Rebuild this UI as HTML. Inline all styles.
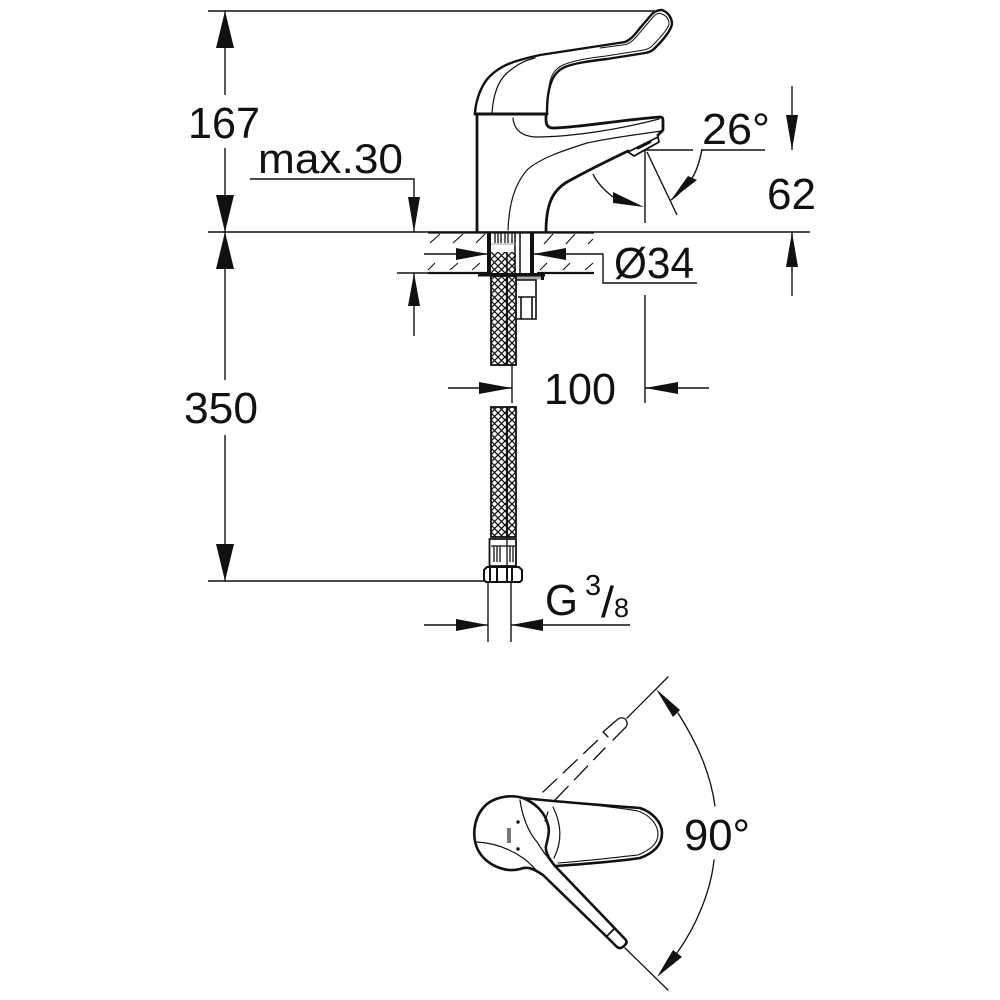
<!DOCTYPE html>
<html><head><meta charset="utf-8"><style>
html,body{margin:0;padding:0;background:#fff}
svg{display:block}
text{font-family:"Liberation Sans",sans-serif;fill:#111}
</style></head><body>
<svg width="1000" height="1000" viewBox="0 0 1000 1000" xmlns="http://www.w3.org/2000/svg">
<defs>
<pattern id="mesh" width="7" height="7" patternUnits="userSpaceOnUse" patternTransform="translate(491 0)">
<rect width="7" height="7" fill="#fff"/>
<path d="M0 0L7 7M7 0L0 7" stroke="#111" stroke-width="1.3"/>
</pattern>
</defs>
<g fill="none" stroke="#111" stroke-width="1.4" stroke-linecap="butt">
<!-- dimension lines -->
<path d="M208 11H655M208 232H810M208 581H485"/>
<path d="M225 11V95M225 148V232V380M225 435V581"/>
<path d="M250 179H414V232"/>
<path d="M792 86V150M792 232V296M702 150H765"/>
<path d="M397 273H490M414 273V336"/>
<path d="M424 254H488M533 254H603V283H697"/>
<path d="M645 295V403M512 365V403M448 388H512M645 388H709"/>
<path d="M488 582V642M511 582V642M424 625H488M511 625H630"/>
<path d="M645 150H693M645 150V223M647 152L677 215"/>
<path d="M702 149C700 160 697 172 690 181C684 189 678 195 671 200"/>
<path d="M593 174C597 183 604 190 613 197"/>
</g>
<g fill="#111" stroke="none">
<path d="M225 11L216 48H234Z"/>
<path d="M225 232L216 195H234Z"/>
<path d="M225 232L216 269H234Z"/>
<path d="M225 581L216 544H234Z"/>
<path d="M414 232L408 197H420Z"/>
<path d="M792 150L786 115H798Z"/>
<path d="M792 232L786 267H798Z"/>
<path d="M414 273L408 306H420Z"/>
<path d="M488 254L456 248V260Z"/>
<path d="M533 254L566 248V260Z"/>
<path d="M512 388L479 382V394Z"/>
<path d="M645 388L678 382V394Z"/>
<path d="M488 625L456 619V631Z"/>
<path d="M511 625L543 619V631Z"/>
<path d="M644 207L613 192V203Z"/>
<path d="M671 200L688 176L697 180Z"/>
</g>
<!-- faucet -->
<g fill="none" stroke="#111" stroke-linejoin="round" stroke-linecap="round">
<path stroke-width="2.4" d="M475 113C476 100 480 90 485 82C493 71 505 64 520 60C530 57 535 56 540 55L625 42C630 40 634 36 640 28L652 14C655 11 659 10 662 10C668 12 672 18 672 24C671 30 665 38 655 48C652 51 650 52 645 53L607 59C590 61 575 63 565 67C553 72 547 85 547 113"/>
<path stroke-width="1" d="M600 48L626 44.500C631 43 636 38 642 30L654 16C657 13 660 13 662 14C667 16 669 20 669 24C668 29 662 36 652 46C650 48 648 49 644 50L606 56C590 58 575 60 563 65C554 69 549 78 549 90"/>
<path stroke-width="1.200" d="M492 113C493 98 497 82 507 73C515 66 525 60 535 58"/>
<path stroke-width="3" d="M475 114H547"/>
<path stroke-width="2.800" d="M477 114V232"/>
<path stroke-width="2.800" d="M546 114V120C546 125 548 128 553 128C575 128 620 120 660 117C663 117 663 119 663 122V130L658 135"/>
<path stroke-width="2.800" d="M628 151C605 162 585 172 567 182C552 191 546 205 546 232"/>
<path stroke-width="1.200" d="M513 118C514 130 522 136 535 137C575 137 625 128 659 119"/>
<path stroke-width="1.200" d="M508 230C509 205 514 185 527 170C540 158 565 150 587 143C610 138 640 134 662 131"/>
<path stroke-width="1.800" fill="#fff" d="M628 152L658 137L659 142L634 156Z"/>
<path stroke-width="2.800" d="M638 148L650 142"/>
</g>
<!-- deck hatch -->
<g fill="none" stroke="#111" stroke-width="2.200">
<path d="M428 232.500H594M428 273H490M537 273H594"/>
</g>
<g fill="none" stroke="#111" stroke-width="1.100">
<path d="M430 243L440 234M453 243L463 234M476 243L485 234"/>
<path d="M544 244L553 234M566 244L575 234M588 244L593 239"/>
<path d="M428 270L435 263M450 270L458 263M472 270L480 263"/>
<path d="M540 270L547 263M563 270L570 263M585 270L593 263"/>
</g>
<!-- shank -->
<rect x="487" y="232" width="4" height="41" fill="#111"/>
<rect x="530" y="232" width="4" height="41" fill="#111"/>
<rect x="491" y="252" width="25" height="21" fill="url(#mesh)"/>
<path d="M515 232V273M520 232V273M507 252V273" stroke="#111" stroke-width="1.500"/>
<path d="M495 233V243M498 233V243M501 233V243M505 233V243M508 233V243M512 233V243" stroke="#111" stroke-width="1.300"/>
<path d="M491 244H516" stroke="#999" stroke-width="1"/>
<rect x="478" y="273" width="67" height="3.500" fill="#111"/>
<rect x="497" y="276.500" width="44" height="3" fill="#aaa"/>
<rect x="541" y="276" width="3" height="4" fill="#111"/>
<path d="M517 280H536V319H517M518 297H535M521 297V319M532 297V319" fill="#fff" stroke="#111" stroke-width="1.600"/>
<!-- hose top -->
<rect x="491" y="276" width="25" height="89" fill="url(#mesh)" stroke="#111" stroke-width="1.800"/>
<path d="M507 276V365" stroke="#111" stroke-width="2.200"/>
<!-- hose bottom -->
<rect x="491" y="407" width="25" height="130" fill="url(#mesh)" stroke="#111" stroke-width="1.800"/>
<path d="M507 407V538" stroke="#111" stroke-width="2.200"/>
<path d="M489.500 539H516V566H489.500Z" fill="#fff" stroke="#111" stroke-width="1.800"/>
<path d="M491 546H515M494 546V562M497 546V562M500 546V562M510 546V562M513 546V562M507 539V566" stroke="#111" stroke-width="1.300" fill="none"/>
<path d="M484 570L487 567H519L522 570V580L520 582H486L484 580Z" fill="#fff" stroke="#111" stroke-width="2"/>
<path d="M490 567V582M497 567V582M507 567V582M512 567V582" stroke="#111" stroke-width="2"/>
<!-- plan view -->
<g fill="none" stroke="#111" stroke-linecap="round" stroke-linejoin="round">
<path stroke-width="2.600" d="M523 798C560 802 600 805 640 808C652 812 662 822 662 833C662 845 654 853 640 858C620 861 585 864 556 866"/>
<path stroke-width="1.100" d="M553 801C580 804 610 806 638 811C650 815 658 825 658 834C658 844 650 850 638 855C610 858 585 861 558 863"/>
<path stroke-width="2.600" d="M523 798C510 794 492 797 483 808C473 820 472 838 478 850C486 865 505 873 520 869C528 866 534 869 543 875L610 940L617 947C620 949 622 948 625 945C627 943 627 941 625 939L555 866C550 860 545 852 546 846C548 838 550 830 548 825C545 812 535 803 523 798Z"/>
<path stroke-width="1.200" d="M520 800C522 815 528 832 537 842C542 850 548 858 553 864"/>
<path stroke-width="1.200" d="M477 842C495 843 510 849 523 858C529 862 533 867 537 871"/>
<path stroke-width="1.200" d="M548 812L545 821M553 807C562 825 562 842 554 858"/>
<path stroke-width="1.800" d="M607 936L614 929"/>
<!-- extended position -->
<path stroke-width="1.300" d="M603 732L618 719C621 717 625 718 626 720C628 723 627 725 626 727L613 740M608 737L603 732"/>
<path stroke-width="1.300" d="M627 718L668 677"/>
<path stroke-width="1.300" stroke-dasharray="19 9" d="M543 792L598 740"/>
<path stroke-width="1.300" stroke-dasharray="19 9" d="M555 800L605 748"/>
<path stroke-width="1.300" d="M625 948L668 990"/>
<path stroke-width="1.300" d="M678 713C695 740 710 770 715 806M714 860C711 890 697 925 677 953"/>
</g>
<path d="M656 689L680 710L673 717Z" fill="#111"/>
<path d="M657 977L673 950L682 957Z" fill="#111"/>
<rect x="507" y="828" width="4" height="15" fill="#777"/>
<g fill="#111"><circle cx="518" cy="822" r="1.700"/><circle cx="518" cy="849" r="1.700"/></g>
<!-- labels -->
<g font-size="44">
<text x="188" y="138" textLength="72" lengthAdjust="spacingAndGlyphs">167</text>
<text x="258" y="173" textLength="145" lengthAdjust="spacingAndGlyphs" font-size="42">max.30</text>
<text x="702" y="144" textLength="68" lengthAdjust="spacingAndGlyphs">26°</text>
<text x="767" y="209" textLength="49" lengthAdjust="spacingAndGlyphs">62</text>
<text x="614" y="278" textLength="80" lengthAdjust="spacingAndGlyphs">Ø34</text>
<text x="544" y="404" textLength="72" lengthAdjust="spacingAndGlyphs">100</text>
<text x="184" y="423" textLength="74" lengthAdjust="spacingAndGlyphs">350</text>
<text x="545" y="615" textLength="33" lengthAdjust="spacingAndGlyphs">G</text>
<text x="684" y="850" textLength="66" lengthAdjust="spacingAndGlyphs">90°</text>
</g>
<text x="585" y="595" font-size="29">3</text>
<text x="601" y="617" font-size="44" textLength="13" lengthAdjust="spacingAndGlyphs">/</text>
<text x="614" y="617" font-size="27">8</text>
</svg>
</body></html>
